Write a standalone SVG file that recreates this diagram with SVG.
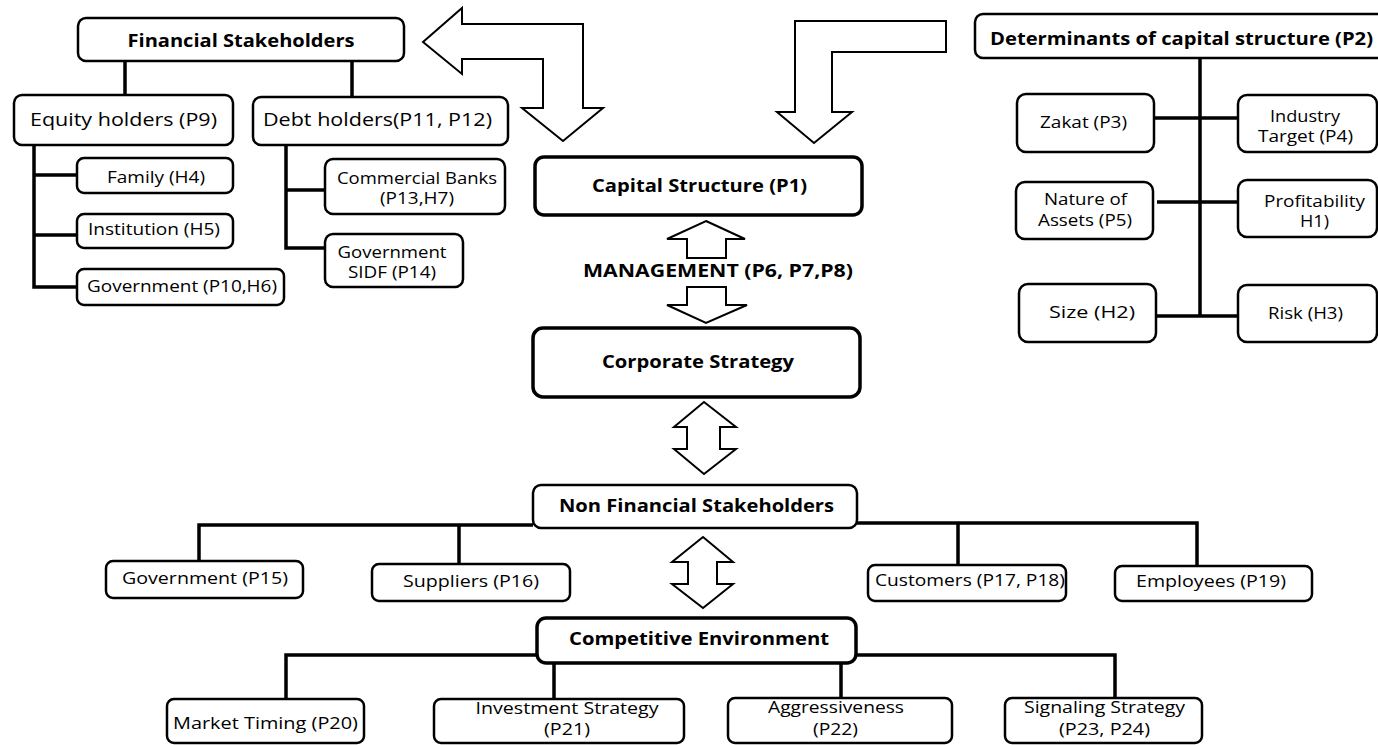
<svg xmlns="http://www.w3.org/2000/svg" width="1378" height="745" viewBox="0 0 1378 745">
<style>
.box{fill:#fff;stroke:#000;stroke-width:2.5}
.thick{stroke-width:3.5}
.ln{fill:none;stroke:#000;stroke-width:3.5}
.arr{fill:#fff;stroke:#000;stroke-width:2;stroke-linejoin:miter}
text{font-family:"Open Sans","Noto Sans",sans-serif;font-size:16px;text-anchor:middle;fill:#000}
.b{font-weight:bold;font-size:18px}
.m{font-size:18px}
</style>
<rect width="1378" height="745" fill="#fff"/>
<g id="connectors">
<path class="ln" d="M125,61 V95 M352,61 V97"/>
<path class="ln" d="M34,145 V287 H77 M34,175 H77 M34,235 H77"/>
<path class="ln" d="M286,145 V248 H325 M286,190 H325"/>
<path class="ln" d="M1200,58 V316 M1154,118 H1238 M1157,202 H1238 M1156,316 H1238"/>
<path class="ln" d="M533,525 H199 V561 M459,525 V564"/>
<path class="ln" d="M857,523 H1197 V566 M958,523 V565"/>
<path class="ln" d="M537,655 H286 V699 M554,663 V699 M856,655 H1115 V698 M841,663 V698"/>
<path class="arr" d="M423,42 L462,8 L462,24 L583,24 L583,108 L603,108 L563,141 L522,108 L543,108 L543,59 L462,59 L462,74 Z"/>
<path class="arr" d="M795,21 L946,21 L946,52 L832,52 L832,112 L852,112 L814,143 L777,112 L795,112 Z"/>
<path class="arr" d="M706,221 L745,239 L726,239 L726,258 L687,258 L687,239 L667,239 Z"/>
<path class="arr" d="M687,287 L726,287 L726,305 L747,305 L706,323 L667,305 L687,305 Z"/>
<path class="arr" d="M704,402 L736,427 L720,427 L720,449 L736,449 L704,474 L674,449 L687,449 L687,427 L674,427 Z"/>
<path class="arr" d="M703,537 L733,562 L717,562 L717,584 L733,584 L703,608 L672,584 L688,584 L688,562 L672,562 Z"/>
</g>
<g id="financial-stakeholders"><rect class="box" x="78" y="18" width="326" height="43" rx="8"/><text class="b" x="241" y="47" textLength="227" lengthAdjust="spacingAndGlyphs">Financial Stakeholders</text></g>
<g id="equity-holders"><rect class="box" x="14" y="95" width="219" height="50" rx="8"/><text class="m" x="123.5" y="126" textLength="187" lengthAdjust="spacingAndGlyphs">Equity holders (P9)</text></g>
<g id="debt-holders"><rect class="box" x="253" y="97" width="255" height="48" rx="8"/><text class="m" x="377.5" y="126" textLength="229" lengthAdjust="spacingAndGlyphs">Debt holders(P11, P12)</text></g>
<g id="family"><rect class="box" x="77" y="158" width="156" height="35" rx="7"/><text x="156" y="183" textLength="98" lengthAdjust="spacingAndGlyphs">Family (H4)</text></g>
<g id="institution"><rect class="box" x="77" y="214" width="156" height="34" rx="7"/><text x="154" y="235" textLength="132" lengthAdjust="spacingAndGlyphs">Institution (H5)</text></g>
<g id="government-p10"><rect class="box" x="77" y="269" width="207" height="36" rx="7"/><text x="182" y="292" textLength="190" lengthAdjust="spacingAndGlyphs">Government (P10,H6)</text></g>
<g id="commercial-banks"><rect class="box" x="325" y="159" width="180" height="55" rx="8"/><text x="417" y="184" textLength="160" lengthAdjust="spacingAndGlyphs">Commercial Banks</text><text x="417" y="204" textLength="74" lengthAdjust="spacingAndGlyphs">(P13,H7)</text></g>
<g id="government-sidf"><rect class="box" x="325" y="234" width="138" height="53" rx="8"/><text x="392" y="258" textLength="109" lengthAdjust="spacingAndGlyphs">Government</text><text x="392" y="278" textLength="88" lengthAdjust="spacingAndGlyphs">SIDF (P14)</text></g>
<g id="capital-structure"><rect class="box thick" x="535" y="157" width="327" height="58" rx="9"/><text class="b" x="699.5" y="192" textLength="215" lengthAdjust="spacingAndGlyphs">Capital Structure (P1)</text></g>
<g id="management"><text class="b" x="718" y="277" textLength="270" lengthAdjust="spacingAndGlyphs">MANAGEMENT (P6, P7,P8)</text></g>
<g id="corporate-strategy"><rect class="box thick" x="533" y="328" width="327" height="69" rx="10"/><text class="b" x="698" y="368" textLength="192" lengthAdjust="spacingAndGlyphs">Corporate Strategy</text></g>
<g id="non-financial-stakeholders"><rect class="box" x="533" y="485" width="324" height="43" rx="8"/><text class="b" x="696.5" y="512" textLength="275" lengthAdjust="spacingAndGlyphs">Non Financial Stakeholders</text></g>
<g id="government-p15"><rect class="box" x="106" y="561" width="197" height="37" rx="7"/><text x="205" y="584" textLength="166" lengthAdjust="spacingAndGlyphs">Government (P15)</text></g>
<g id="suppliers"><rect class="box" x="372" y="564" width="198" height="37" rx="7"/><text x="471" y="587" textLength="136" lengthAdjust="spacingAndGlyphs">Suppliers (P16)</text></g>
<g id="customers"><rect class="box" x="868" y="565" width="198" height="36" rx="7"/><text x="970" y="586" textLength="190" lengthAdjust="spacingAndGlyphs">Customers (P17, P18)</text></g>
<g id="employees"><rect class="box" x="1115" y="566" width="197" height="35" rx="7"/><text x="1211" y="587" textLength="150" lengthAdjust="spacingAndGlyphs">Employees (P19)</text></g>
<g id="competitive-environment"><rect class="box thick" x="537" y="618" width="319" height="45" rx="9"/><text class="b" x="699" y="645" textLength="260" lengthAdjust="spacingAndGlyphs">Competitive Environment</text></g>
<g id="market-timing"><rect class="box" x="167" y="699" width="197" height="44" rx="7"/><text x="265.5" y="729" textLength="185" lengthAdjust="spacingAndGlyphs">Market Timing (P20)</text></g>
<g id="investment-strategy"><rect class="box" x="434" y="699" width="250" height="44" rx="7"/><text x="567" y="714" textLength="183" lengthAdjust="spacingAndGlyphs">Investment Strategy</text><text x="567" y="735" textLength="46" lengthAdjust="spacingAndGlyphs">(P21)</text></g>
<g id="aggressiveness"><rect class="box" x="728" y="698" width="224" height="45" rx="7"/><text x="836" y="713" textLength="136" lengthAdjust="spacingAndGlyphs">Aggressiveness</text><text x="835.5" y="735" textLength="45" lengthAdjust="spacingAndGlyphs">(P22)</text></g>
<g id="signaling-strategy"><rect class="box" x="1005" y="698" width="197" height="45" rx="7"/><text x="1104.5" y="713" textLength="161" lengthAdjust="spacingAndGlyphs">Signaling Strategy</text><text x="1104.5" y="735" textLength="91" lengthAdjust="spacingAndGlyphs">(P23, P24)</text></g>
<g id="determinants"><rect class="box" x="975" y="14" width="412" height="44" rx="8"/><text class="b" x="1181.5" y="45" textLength="383" lengthAdjust="spacingAndGlyphs">Determinants of capital structure (P2)</text></g>
<g id="zakat"><rect class="box" x="1017" y="94" width="137" height="58" rx="9"/><text x="1083.5" y="128" textLength="87" lengthAdjust="spacingAndGlyphs">Zakat (P3)</text></g>
<g id="industry-target"><rect class="box" x="1238" y="95" width="139" height="57" rx="9"/><text x="1305" y="122" textLength="70" lengthAdjust="spacingAndGlyphs">Industry</text><text x="1305.5" y="142" textLength="95" lengthAdjust="spacingAndGlyphs">Target (P4)</text></g>
<g id="nature-of-assets"><rect class="box" x="1016" y="182" width="137" height="57" rx="9"/><text x="1085.5" y="205" textLength="83" lengthAdjust="spacingAndGlyphs">Nature of</text><text x="1085" y="226" textLength="94" lengthAdjust="spacingAndGlyphs">Assets (P5)</text></g>
<g id="profitability"><rect class="box" x="1238" y="180" width="139" height="57" rx="9"/><text x="1314.5" y="207" textLength="101" lengthAdjust="spacingAndGlyphs">Profitability</text><text x="1314.5" y="227" textLength="29" lengthAdjust="spacingAndGlyphs">H1)</text></g>
<g id="size"><rect class="box" x="1019" y="284" width="137" height="58" rx="9"/><text x="1092" y="318" textLength="86" lengthAdjust="spacingAndGlyphs">Size (H2)</text></g>
<g id="risk"><rect class="box" x="1238" y="285" width="139" height="57" rx="9"/><text x="1305.5" y="319" textLength="75" lengthAdjust="spacingAndGlyphs">Risk (H3)</text></g>
</svg>
